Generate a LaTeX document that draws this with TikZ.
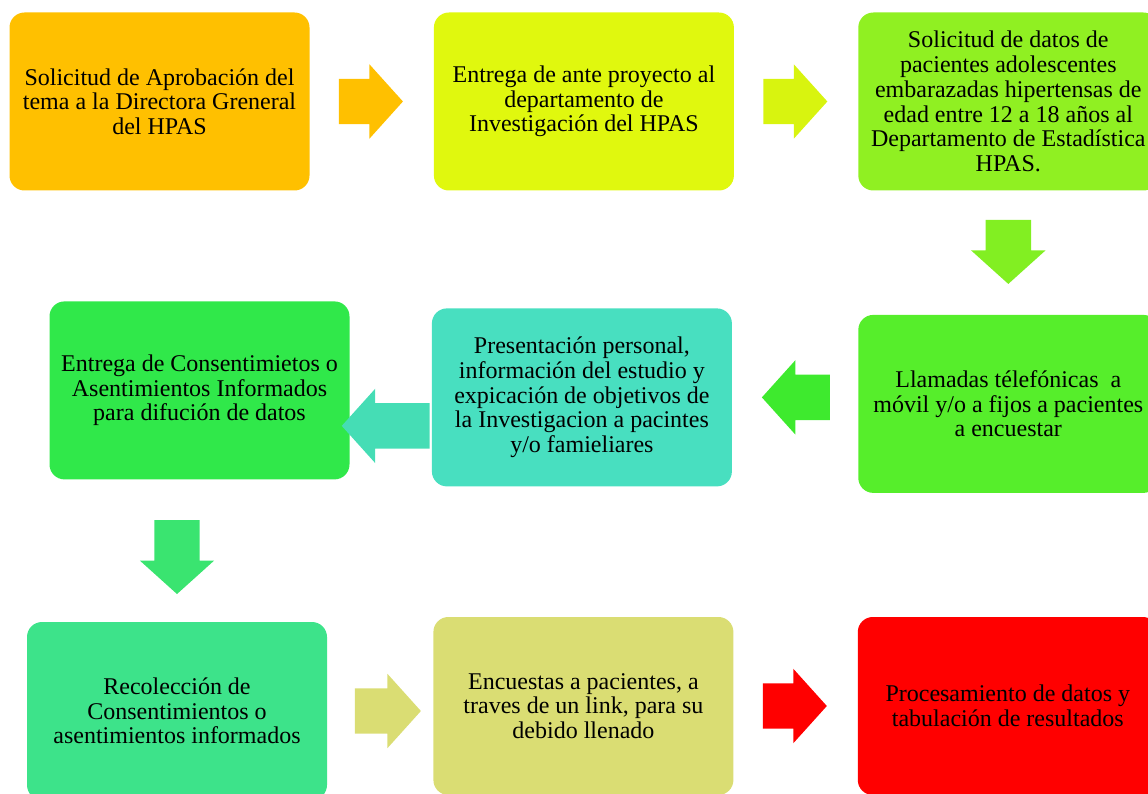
\documentclass[tikz,border=0pt]{standalone}
\usepackage{fontspec}
\setmainfont{Liberation Serif}
\usepackage{tikz}
\usetikzlibrary{positioning,shapes.arrows}

\definecolor{c1}{HTML}{FFC000}
\definecolor{c2}{HTML}{E0F80E}
\definecolor{c3}{HTML}{90F022}
\definecolor{c4}{HTML}{30E84A}
\definecolor{c5}{HTML}{48DFC0}
\definecolor{c6}{HTML}{56EE2B}
\definecolor{c7}{HTML}{3DE38A}
\definecolor{c8}{HTML}{DADD73}
\definecolor{c9}{HTML}{FF0000}
\definecolor{a2}{HTML}{D8F40F}
\definecolor{a3}{HTML}{82EF22}
\definecolor{a4}{HTML}{3AE470}
\definecolor{a5}{HTML}{45DDB5}
\definecolor{a6}{HTML}{3EEA2E}

\tikzset{
  paso/.style={rectangle, rounded corners=15pt, minimum width=300pt, minimum height=178pt,
    inner sep=0pt, align=center, font=\fontsize{24}{24.7}\selectfont},
  flecha/.style={single arrow, draw=none, inner xsep=0pt, inner ysep=22.5pt,
    single arrow head extend=14.5pt, single arrow tip angle=96,
    single arrow head indent=0pt, minimum height=#1, xshift=-11pt},
}

\begin{document}
\begin{tikzpicture}[x=1pt, y=-1pt]
  \useasboundingbox (0,0) rectangle (1148,794);
  \clip (0,0) rectangle (1148,794);
  % first row
  \node[paso, fill=c1] (b1) at (159.5,101.5) {Solicitud de Aprobación del\\tema a la Directora Greneral\\del HPAS};
  \node[paso, fill=c2, right=124pt of b1] (b2) {Entrega de ante proyecto al\\departamento de\\Investigación del HPAS};
  \node[paso, fill=c3, right=124pt of b2] (b3) {Solicitud de datos de\\pacientes adolescentes\\embarazadas hipertensas de\\edad entre 12 a 18 años al\\Departamento de Estadística\\HPAS.};
  % second row
  \node[paso, fill=c6, below=124pt of b3] (b6) {Llamadas télefónicas\ \ a\\móvil y/o a fijos a pacientes\\a encuestar};
  \node[paso, fill=c5, left=126pt of b6, yshift=6.5pt] (b5) {Presentación personal,\\información del estudio y\\expicación de objetivos de\\la Investigacion a pacintes\\y/o famieliares};
  \node[paso, fill=c4, left=82pt of b5, yshift=7pt] (b4) {Entrega de Consentimietos o\\Asentimientos Informados\\para difución de datos};
  % third row
  \node[paso, fill=c7] (b7) at (177,711) {Recolección de\\Consentimientos o\\asentimientos informados};
  \node[paso, fill=c8, right=106pt of b7, yshift=5pt] (b8) {Encuestas a pacientes, a\\traves de un link, para su\\debido llenado};
  \node[paso, fill=c9, right=124pt of b8] (b9) {Procesamiento de datos y\\tabulación de resultados};

  \path (b1) -- (b2) node[midway, flecha=64pt, fill=c1] (f1) {};
  \path (b2) -- (b3) node[midway, flecha=64pt, fill=a2] (f2) {};
  \path (b3) -- (b6) node[midway, rotate=-90, flecha=64pt, fill=a3] (f3) {};
  \path (b6.west |- b5.east) -- (b5.east) node[midway, rotate=180, flecha=68pt, fill=a6] (f4) {};
  \path ([yshift=-28.5pt]b5.west) -- ([yshift=-28.5pt]b5.west -| b4.east) node[pos=0.57, rotate=180, flecha=88pt, fill=a5] (f5) {};
  \path (b4.south -| b7.north) -- (b7.north) node[pos=0.55, rotate=-90, flecha=74pt, fill=a4] (f6) {};
  \path (b7.east) -- (b8.west |- b7.east) node[pos=0.58, flecha=66pt, fill=c8] (f7) {};
  \path (b8) -- (b9) node[midway, flecha=64pt, fill=c9] (f8) {};
\end{tikzpicture}
\end{document}
